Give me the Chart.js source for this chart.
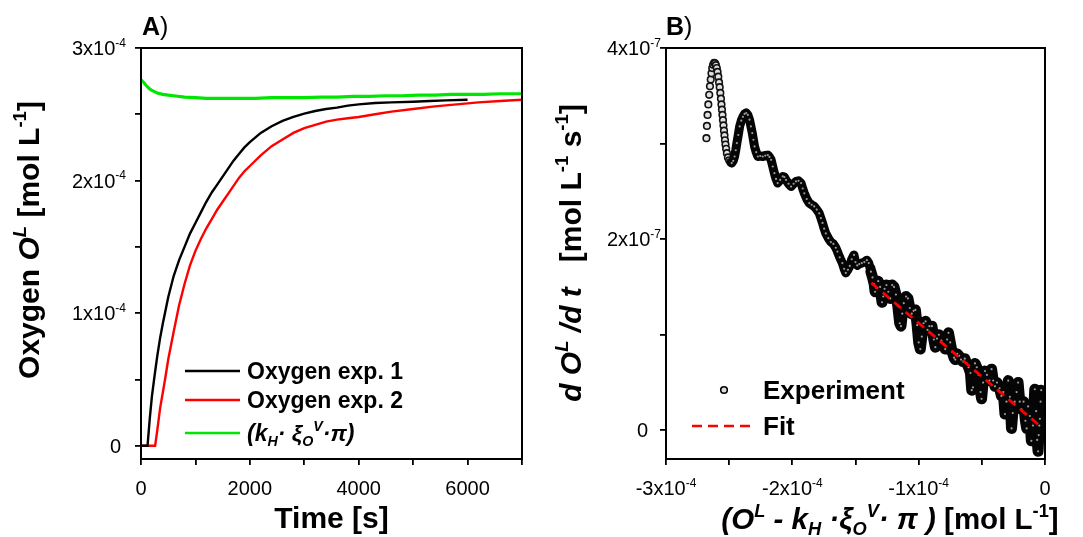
<!DOCTYPE html>
<html>
<head>
<meta charset="utf-8">
<title>Oxygen uptake</title>
<script src="https://cdn.jsdelivr.net/npm/chart.js@4.4.1/dist/chart.umd.min.js"></script>
<style>
  html, body { margin: 0; padding: 0; background: #fff; }
  #wrap { position: relative; width: 1083px; height: 537px; overflow: hidden; }
  canvas { position: absolute; top: 0; }
  #cA { left: 0; }
  #cB { left: 550px; }
</style>
</head>
<body>
<div id="wrap">
  <canvas id="cA" width="550" height="537"></canvas>
  <canvas id="cB" width="533" height="537"></canvas>
</div>
<script>
// ================================
// DATA - panel A (time in s, oxygen in 1e-4 mol/L)
// ================================
const timeExp1 = [0, 120, 160, 200, 250, 300, 350, 400, 450, 500, 600, 700, 800, 900, 1000, 1100, 1200, 1300, 1400,
  1500, 1600, 1700, 1800, 1900, 2000, 2200, 2400, 2600, 2800, 3000, 3200, 3400, 3600, 3800, 4000, 4300, 4600, 5000,
  5300, 5600, 6000];
const o2Exp1 = [0, 0, 0.20, 0.37, 0.53, 0.68, 0.81, 0.92, 1.02, 1.12, 1.28, 1.40, 1.50, 1.60, 1.68, 1.76, 1.84, 1.91, 1.97,
  2.03, 2.09, 2.15, 2.20, 2.25, 2.29, 2.36, 2.41, 2.45, 2.48, 2.505, 2.525, 2.54, 2.55, 2.565, 2.575, 2.585, 2.59, 2.595,
  2.60, 2.605, 2.61];

const timeExp2 = [0, 260, 300, 350, 400, 450, 500, 600, 700, 800, 900, 1000, 1100, 1200, 1300, 1400, 1500, 1600, 1700,
  1800, 1900, 2000, 2200, 2400, 2600, 2800, 3000, 3200, 3400, 3600, 3800, 4000, 4300, 4600, 5000, 5400, 5800, 6200,
  6600, 7000];
const o2Exp2 = [0, 0, 0.12, 0.28, 0.40, 0.52, 0.65, 0.86, 1.06, 1.22, 1.36, 1.47, 1.56, 1.64, 1.71, 1.78, 1.84, 1.90, 1.96,
  2.02, 2.07, 2.11, 2.19, 2.26, 2.31, 2.36, 2.395, 2.42, 2.445, 2.46, 2.47, 2.48, 2.50, 2.52, 2.54, 2.56, 2.575, 2.59,
  2.60, 2.61];

const timeSat = [0, 50, 100, 150, 200, 300, 400, 500, 600, 800, 1000, 1200, 1500, 1800, 2100, 2400, 2700, 3000, 3300,
  3600, 3900, 4200, 4500, 4800, 5100, 5400, 5700, 6000, 6300, 6600, 7000];
const o2Sat = [2.76, 2.74, 2.715, 2.695, 2.68, 2.66, 2.65, 2.645, 2.64, 2.63, 2.625, 2.62, 2.62, 2.62, 2.62, 2.625, 2.625,
  2.625, 2.63, 2.63, 2.635, 2.635, 2.64, 2.64, 2.645, 2.645, 2.65, 2.65, 2.65, 2.655, 2.655];

const aXTicks = [0, 1000, 2000, 3000, 4000, 5000, 6000, 7000];
const aXLabels = ['0', '', '2000', '', '4000', '', '6000', ''];
const aYTicks = [0, 0.5e-4, 1e-4, 1.5e-4, 2e-4, 2.5e-4, 3e-4];
const aYLabels = ['0', '', '1x10^{-4}', '', '2x10^{-4}', '', '3x10^{-4}'];

// ================================
// DATA - panel B (x in 1e-4 mol/L, y in 1e-7 mol/L/s)
// ================================
// first hook of the curve, where single circles are still visible
const expSparseX = [-2.680, -2.676, -2.671, -2.665, -2.658, -2.652, -2.646, -2.640, -2.634, -2.627, -2.619, -2.612,
  -2.605, -2.598, -2.592, -2.586, -2.580, -2.575, -2.570, -2.565, -2.561, -2.557, -2.553, -2.549, -2.545, -2.541,
  -2.537, -2.533, -2.529, -2.524, -2.518, -2.510, -2.500, -2.490, -2.480];
const expSparseY = [3.057, 3.185, 3.300, 3.410, 3.510, 3.600, 3.670, 3.735, 3.790, 3.825, 3.845, 3.840, 3.820, 3.790,
  3.750, 3.700, 3.640, 3.590, 3.530, 3.470, 3.410, 3.355, 3.300, 3.245, 3.190, 3.135, 3.085, 3.035, 2.990, 2.945,
  2.900, 2.855, 2.825, 2.805, 2.796];

// middle stretch, circles packed into a single wavy band
const expBand = [
  [-2.480, 2.796], [-2.468, 2.82], [-2.457, 2.865], [-2.448, 2.93], [-2.439, 3.005], [-2.428, 3.09], [-2.417, 3.18],
  [-2.404, 3.24], [-2.391, 3.28], [-2.378, 3.31], [-2.365, 3.32], [-2.352, 3.30], [-2.339, 3.25], [-2.328, 3.18],
  [-2.317, 3.11], [-2.308, 3.04], [-2.299, 2.97], [-2.286, 2.91], [-2.273, 2.865], [-2.254, 2.87], [-2.234, 2.865],
  [-2.214, 2.875], [-2.194, 2.88], [-2.181, 2.86], [-2.168, 2.83], [-2.155, 2.76], [-2.142, 2.69], [-2.129, 2.63],
  [-2.116, 2.587], [-2.096, 2.62], [-2.076, 2.656], [-2.063, 2.65], [-2.050, 2.62], [-2.030, 2.58], [-2.010, 2.55],
  [-1.990, 2.58], [-1.971, 2.604], [-1.951, 2.61], [-1.931, 2.587], [-1.918, 2.53], [-1.905, 2.48], [-1.886, 2.42],
  [-1.866, 2.378], [-1.847, 2.36], [-1.827, 2.343], [-1.807, 2.31], [-1.787, 2.27], [-1.774, 2.22], [-1.761, 2.17],
  [-1.748, 2.11], [-1.735, 2.06], [-1.715, 2.01], [-1.695, 1.97], [-1.675, 1.95], [-1.656, 1.91], [-1.643, 1.87],
  [-1.625, 1.81], [-1.604, 1.75], [-1.590, 1.69], [-1.577, 1.647], [-1.560, 1.68], [-1.545, 1.72], [-1.530, 1.79],
  [-1.512, 1.835], [-1.500, 1.76], [-1.486, 1.725], [-1.470, 1.74], [-1.450, 1.75], [-1.430, 1.76], [-1.410, 1.78],
  [-1.395, 1.75], [-1.385, 1.70], [-1.378, 1.66]
];

// last stretch, where the circles spread around the fit line
const expCloud = [
  [-1.378, 1.66], [-1.365, 1.60], [-1.352, 1.53], [-1.345, 1.45], [-1.335, 1.49],
  [-1.320, 1.56], [-1.305, 1.50], [-1.290, 1.34], [-1.280, 1.40], [-1.270, 1.48], [-1.255, 1.52], [-1.240, 1.45],
  [-1.225, 1.38], [-1.210, 1.52], [-1.195, 1.50], [-1.180, 1.42], [-1.165, 1.30], [-1.150, 1.12], [-1.140, 1.09],
  [-1.130, 1.22], [-1.118, 1.33], [-1.100, 1.40], [-1.085, 1.38], [-1.070, 1.28], [-1.055, 1.22], [-1.040, 1.25],
  [-1.026, 1.26], [-1.012, 1.10], [-1.000, 0.92], [-0.987, 0.85], [-0.975, 0.98], [-0.961, 1.12], [-0.945, 1.14],
  [-0.930, 1.05], [-0.915, 1.09], [-0.895, 1.09], [-0.880, 0.95], [-0.868, 0.87], [-0.855, 0.96], [-0.840, 1.00],
  [-0.820, 0.94], [-0.800, 0.90], [-0.790, 0.85], [-0.775, 0.95], [-0.764, 1.02], [-0.750, 0.92], [-0.735, 0.82],
  [-0.720, 0.76], [-0.710, 0.74], [-0.695, 0.80], [-0.680, 0.78], [-0.665, 0.74], [-0.650, 0.72], [-0.635, 0.75],
  [-0.620, 0.70], [-0.605, 0.66], [-0.590, 0.60], [-0.580, 0.42], [-0.570, 0.45], [-0.554, 0.70], [-0.540, 0.66],
  [-0.525, 0.58], [-0.510, 0.40], [-0.502, 0.33], [-0.490, 0.50], [-0.475, 0.62], [-0.460, 0.58], [-0.440, 0.52],
  [-0.423, 0.64], [-0.410, 0.52], [-0.396, 0.46], [-0.380, 0.50], [-0.360, 0.44], [-0.345, 0.36], [-0.330, 0.40],
  [-0.317, 0.17], [-0.305, 0.30], [-0.291, 0.52], [-0.278, 0.35], [-0.265, 0.02], [-0.255, 0.18], [-0.240, 0.30],
  [-0.225, 0.40], [-0.213, 0.50], [-0.200, 0.30], [-0.185, 0.22], [-0.170, 0.30], [-0.155, 0.10], [-0.145, 0.02],
  [-0.134, 0.25], [-0.120, 0.15], [-0.108, -0.11], [-0.095, 0.05], [-0.081, 0.43], [-0.070, 0.20], [-0.062, -0.10],
  [-0.055, -0.22], [-0.045, 0.05], [-0.035, 0.30], [-0.030, 0.42], [-0.040, 0.12], [-0.050, -0.05]
];

const fitX = [-1.375, -0.055];
const fitY = [1.543, 0.063];

const bXTicks = [-3e-4, -2.5e-4, -2e-4, -1.5e-4, -1e-4, -0.5e-4, 0];
const bXLabels = ['-3x10^{-4}', '', '-2x10^{-4}', '', '-1x10^{-4}', '', '0'];
const bYTicks = [0, 1e-7, 2e-7, 3e-7, 4e-7];
const bYLabels = ['0', '', '2x10^{-7}', '', '4x10^{-7}'];

// ================================
// TEXT HELPERS (bold / italic / super- and subscripts)
// ================================
const FONT = '"Liberation Sans", Arial, Helvetica, sans-serif';
const fontStr = (f, size) => `${f.includes('i') ? 'italic ' : ''}${f.includes('b') ? 'bold ' : ''}${size}px ${FONT}`;

function drawRich(ctx, segs, x, y, size, align, supScale = 0.62) {
  let w = 0;
  const parts = segs.map(s => {
    const fs = s.p ? size * supScale : size;
    ctx.font = fontStr(s.f || '', fs);
    const pw = ctx.measureText(s.t).width;
    w += pw;
    return { ...s, fs, pw };
  });
  let cx = align === 'center' ? x - w / 2 : align === 'right' ? x - w : x;
  ctx.textAlign = 'left';
  ctx.textBaseline = 'alphabetic';
  for (const p of parts) {
    ctx.font = fontStr(p.f || '', p.fs);
    const dy = p.p === 'sup' ? -size * 0.42 : p.p === 'sub' ? size * 0.2 : 0;
    ctx.fillText(p.t, cx, y + dy);
    cx += p.pw;
  }
}

function drawRotated(ctx, segs, x, y, size) {
  ctx.save();
  ctx.translate(x, y);
  ctx.rotate(-Math.PI / 2);
  drawRich(ctx, segs, 0, 0, size, 'center');
  ctx.restore();
}

// "2x10^{-4}" -> segments
function parseLabel(s) {
  const segs = [];
  const re = /\^\{([^}]*)\}/g;
  let last = 0, m;
  while ((m = re.exec(s))) {
    if (m.index > last) segs.push({ t: s.slice(last, m.index) });
    segs.push({ t: m[1], p: 'sup' });
    last = re.lastIndex;
  }
  if (last < s.length) segs.push({ t: s.slice(last) });
  return segs;
}

const toPts = (xs, ys, ux, uy) => xs.map((x, i) => ({ x: x * ux, y: ys[i] * uy }));
const pairPts = (pairs, ux, uy) => pairs.map(p => ({ x: p[0] * ux, y: p[1] * uy }));

function frame(ctx, a) {
  ctx.strokeStyle = '#000';
  ctx.lineWidth = 2;
  ctx.strokeRect(a.left, a.top, a.right - a.left, a.bottom - a.top);
}

function axisOpts(min, max, ticks, size, isX) {
  return {
    type: 'linear', min, max,
    afterBuildTicks: s => { s.ticks = ticks.map(v => ({ value: v })); },
    afterFit: s => { if (isX) s.height = size; else s.width = size; },
    ticks: { display: false },
    grid: { drawOnChartArea: false, drawTicks: true, tickLength: 6, color: '#000', lineWidth: 1.8 },
    border: { display: false }
  };
}

const TICK_PX = 20;

// ================================
// PANEL A
// ================================
function decorateA(chart) {
  const { ctx, chartArea: a, scales: { x, y } } = chart;
  ctx.save();
  frame(ctx, a);
  ctx.fillStyle = '#000';
  aXTicks.forEach((v, i) => {
    if (aXLabels[i]) drawRich(ctx, parseLabel(aXLabels[i]), x.getPixelForValue(v), 495, TICK_PX, 'center', 0.6);
  });
  aYTicks.forEach((v, i) => {
    const lab = aYLabels[i];
    if (!lab) return;
    drawRich(ctx, parseLabel(lab), a.left - (lab === '0' ? 20 : 15), y.getPixelForValue(v) + 7, TICK_PX, 'right', 0.6);
  });
  drawRich(ctx, [{ t: 'Time [s]', f: 'b' }], (a.left + a.right) / 2, 528, 30, 'center');
  drawRotated(ctx, [
    { t: 'Oxygen ', f: 'b' }, { t: 'O', f: 'bi' }, { t: 'L', f: 'bi', p: 'sup' },
    { t: ' [mol L', f: 'b' }, { t: '-1', f: 'b', p: 'sup' }, { t: ']', f: 'b' }
  ], 39, 240, 30);
  drawRich(ctx, [{ t: 'A', f: 'b' }, { t: ')' }], 142, 35, 25, 'left');

  // legend
  const rows = [
    { c: '#000000', y: 371, segs: [{ t: 'Oxygen exp. 1', f: 'b' }] },
    { c: '#ff0000', y: 400, segs: [{ t: 'Oxygen exp. 2', f: 'b' }] },
    { c: '#00e600', y: 433, segs: [
      { t: '(k', f: 'bi' }, { t: 'H', f: 'bi', p: 'sub' }, { t: '· ξ', f: 'bi' }, { t: 'O', f: 'bi', p: 'sub' },
      { t: 'V', f: 'bi', p: 'sup' }, { t: '·π)', f: 'bi' }] }
  ];
  rows.forEach(r => {
    ctx.strokeStyle = r.c;
    ctx.lineWidth = 2.5;
    ctx.beginPath();
    ctx.moveTo(185, r.y);
    ctx.lineTo(240, r.y);
    ctx.stroke();
    ctx.fillStyle = '#000';
    drawRich(ctx, r.segs, 247, r.y + 8, 23, 'left');
  });
  ctx.restore();
}

new Chart(document.getElementById('cA'), {
  type: 'scatter',
  data: {
    datasets: [
      { label: 'Oxygen exp. 1', data: toPts(timeExp1, o2Exp1, 1, 1e-4), showLine: true, borderColor: '#000',
        borderWidth: 2.4, pointRadius: 0, order: 1 },
      { label: 'Oxygen exp. 2', data: toPts(timeExp2, o2Exp2, 1, 1e-4), showLine: true, borderColor: '#ff0000',
        borderWidth: 2.4, pointRadius: 0, order: 2 },
      { label: 'kH xi pi', data: toPts(timeSat, o2Sat, 1, 1e-4), showLine: true, borderColor: '#00e600',
        borderWidth: 3.2, pointRadius: 0, order: 3 }
    ]
  },
  options: {
    responsive: false, animation: false, events: [],
    layout: { padding: { left: 0, right: 28, top: 48, bottom: 0 } },
    plugins: { legend: { display: false }, tooltip: { enabled: false } },
    scales: {
      x: axisOpts(0, 7000, aXTicks, 78, true),
      y: axisOpts(-1e-5, 3e-4, aYTicks, 141, false)
    }
  },
  plugins: [{ id: 'decorA', afterDraw: decorateA }]
});

// ================================
// PANEL B
// ================================
function decorateB(chart) {
  const { ctx, chartArea: a, scales: { x, y } } = chart;
  ctx.save();
  frame(ctx, a);
  ctx.fillStyle = '#000';
  bXTicks.forEach((v, i) => {
    if (bXLabels[i]) drawRich(ctx, parseLabel(bXLabels[i]), x.getPixelForValue(v), 495, TICK_PX, 'center', 0.6);
  });
  bYTicks.forEach((v, i) => {
    const lab = bYLabels[i];
    if (!lab) return;
    drawRich(ctx, parseLabel(lab), a.left - (lab === '0' ? 18 : 5), y.getPixelForValue(v) + 7, TICK_PX, 'right', 0.6);
  });
  drawRich(ctx, [
    { t: '(O', f: 'bi' }, { t: 'L', f: 'bi', p: 'sup' }, { t: ' - k', f: 'bi' }, { t: 'H', f: 'bi', p: 'sub' },
    { t: ' ·ξ', f: 'bi' }, { t: 'O', f: 'bi', p: 'sub' }, { t: 'V', f: 'bi', p: 'sup' }, { t: '· π )', f: 'bi' },
    { t: ' [mol L', f: 'b' }, { t: '-1', f: 'b', p: 'sup' }, { t: ']', f: 'b' }
  ], 340, 529, 29.5, 'center');
  drawRotated(ctx, [
    { t: 'd O', f: 'bi' }, { t: 'L', f: 'bi', p: 'sup' }, { t: ' /d t', f: 'bi' },
    { t: '   [mol L', f: 'b' }, { t: '-1', f: 'b', p: 'sup' }, { t: ' s', f: 'b' }, { t: '-1', f: 'b', p: 'sup' },
    { t: ']', f: 'b' }
  ], 31, 253, 30);
  drawRich(ctx, [{ t: 'B', f: 'b' }, { t: ')' }], 116, 35, 25, 'left');

  // legend
  ctx.beginPath();
  ctx.arc(174, 390, 3.3, 0, Math.PI * 2);
  ctx.fillStyle = '#ddd';
  ctx.fill();
  ctx.strokeStyle = '#000';
  ctx.lineWidth = 1.6;
  ctx.stroke();
  ctx.fillStyle = '#000';
  drawRich(ctx, [{ t: 'Experiment', f: 'b' }], 213, 399, 26, 'left');
  ctx.strokeStyle = '#ff0000';
  ctx.lineWidth = 2.5;
  ctx.setLineDash([10, 6]);
  ctx.beginPath();
  ctx.moveTo(142, 426);
  ctx.lineTo(205, 426);
  ctx.stroke();
  ctx.setLineDash([]);
  drawRich(ctx, [{ t: 'Fit', f: 'b' }], 213, 435, 26, 'left');
  ctx.restore();
}

const bandStyle = {
  showLine: true, borderColor: '#050505', borderJoinStyle: 'round', borderCapStyle: 'round',
  pointRadius: 1.1, pointBorderWidth: 0, pointBackgroundColor: '#9a9a9a'
};

new Chart(document.getElementById('cB'), {
  type: 'scatter',
  data: {
    datasets: [
      { label: 'Fit', data: toPts(fitX, fitY, 1e-4, 1e-7), showLine: true, borderColor: '#ff0000', borderWidth: 2.8,
        borderDash: [9, 6], pointRadius: 0, order: 0 },
      { label: 'Experiment', data: pairPts(expCloud, 1e-4, 1e-7), ...bandStyle, borderWidth: 11, order: 1 },
      { label: 'Experiment', data: pairPts(expBand, 1e-4, 1e-7), ...bandStyle, borderWidth: 9, order: 2 },
      { label: 'Experiment start', data: toPts(expSparseX, expSparseY, 1e-4, 1e-7), showLine: false,
        pointRadius: 3.3, pointBorderWidth: 1.6, pointBorderColor: '#111', pointBackgroundColor: '#e0e0e0', order: 3 }
    ]
  },
  options: {
    responsive: false, animation: false, events: [],
    layout: { padding: { left: 0, right: 38, top: 48, bottom: 0 } },
    plugins: { legend: { display: false }, tooltip: { enabled: false } },
    scales: {
      x: axisOpts(-3e-4, 0, bXTicks, 78, true),
      y: axisOpts(-3e-8, 4e-7, bYTicks, 116, false)
    }
  },
  plugins: [{ id: 'decorB', afterDraw: decorateB }]
});
</script>
</body>
</html>
